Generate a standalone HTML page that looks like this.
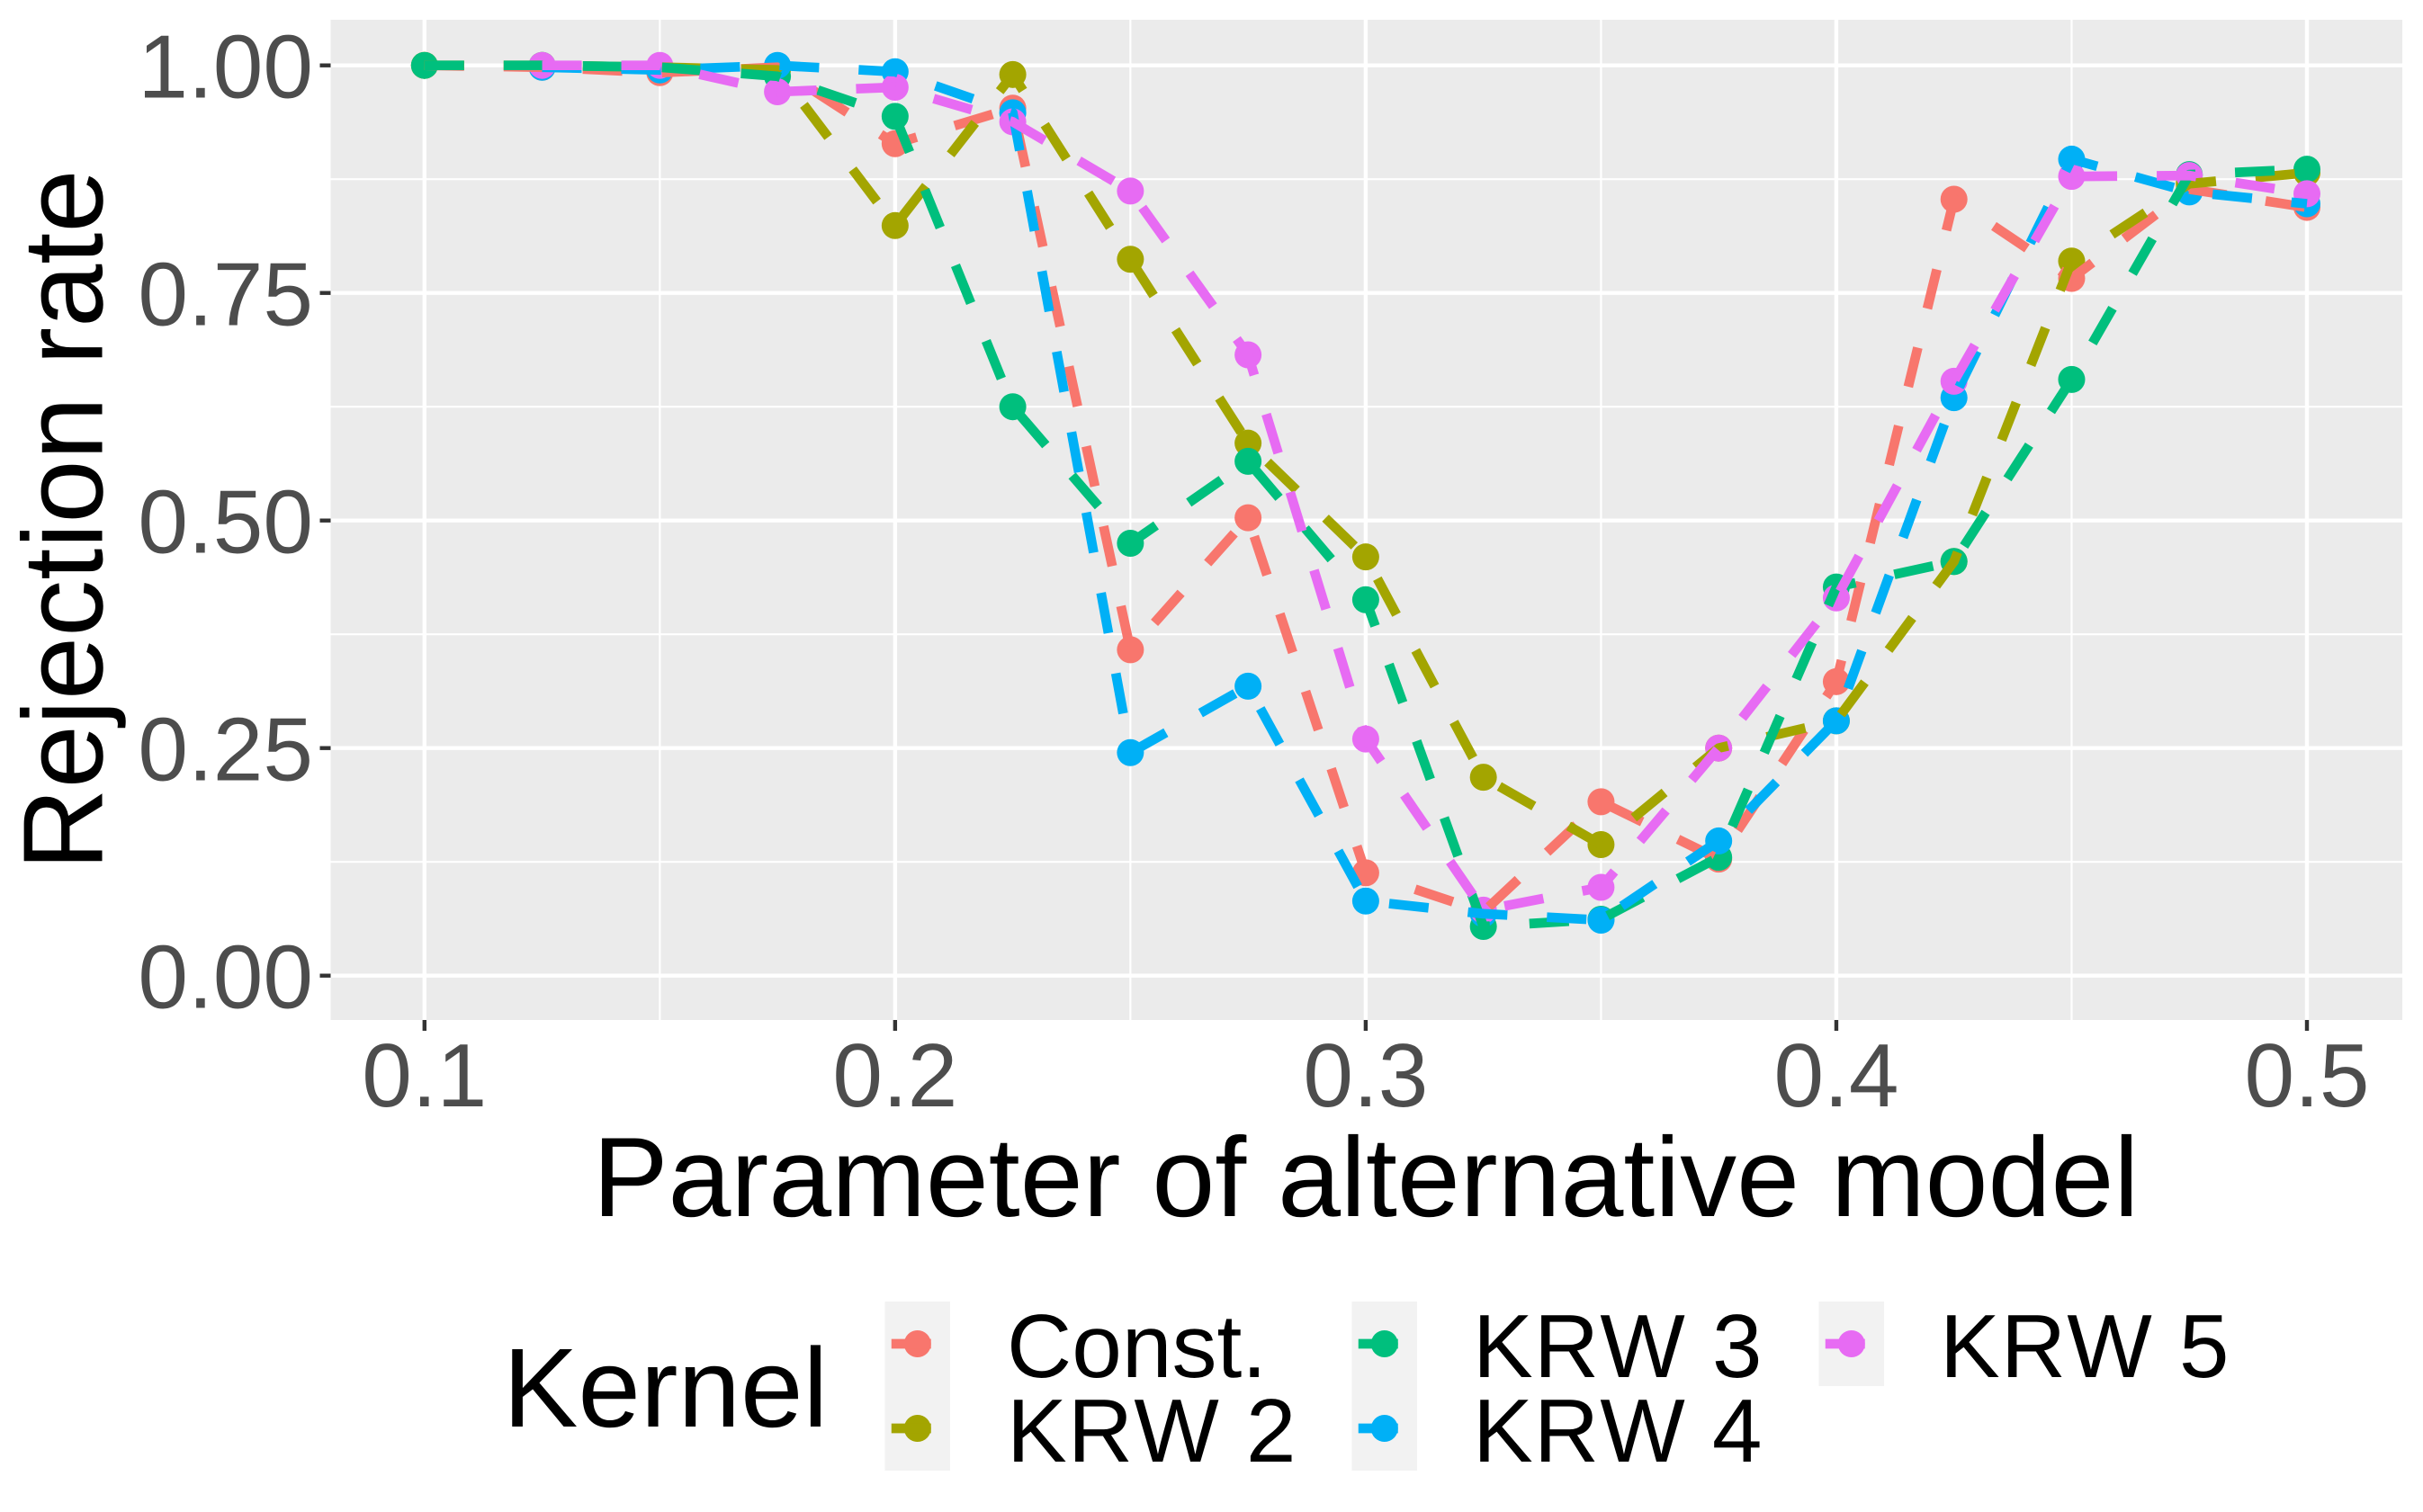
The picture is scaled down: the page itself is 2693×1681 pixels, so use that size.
<!DOCTYPE html>
<html lang="en">
<head>
<meta charset="utf-8">
<title>Rejection rate by parameter of alternative model</title>
<style>
html,body{margin:0;padding:0;background:#fff;}
svg{display:block;}
text{font-family:"Liberation Sans",Arial,sans-serif;font-kerning:none;text-rendering:geometricPrecision;}
</style>
</head>
<body>
<svg id="chart" xmlns="http://www.w3.org/2000/svg" width="2693" height="1681" viewBox="0 0 2693 1681">
  <rect x="0" y="0" width="2693" height="1681" fill="#ffffff"/>
  <rect x="367.5" y="22" width="2302.5" height="1112" fill="#EBEBEB"/>
  <g id="grid"></g>
  <g id="ticks"></g>
  <g id="points"></g>
  <g id="lines"></g>
  <text x="1518" y="1352" text-anchor="middle" font-size="125.7" fill="#000">Parameter of alternative model</text>
  <text transform="translate(113.5,578) rotate(-90)" text-anchor="middle" font-size="126.3" fill="#000">Rejection rate</text>
  <text x="559" y="1586" font-size="125" fill="#000">Kernel</text>
  <g id="legend"></g>
</svg>
<script>
var xValues = [0.1,0.125,0.15,0.175,0.2,0.225,0.25,0.275,0.3,0.325,0.35,0.375,0.4,0.425,0.45,0.475,0.5];
var seriesNames = ["Const.","KRW 2","KRW 3","KRW 4","KRW 5"];
var seriesColors = ["#F8766D","#A3A500","#00BF7D","#00B0F6","#E76BF3"];
var constValues = [1,0.998,0.992,0.998,0.914,0.953,0.358,0.503,0.113,0.07,0.191,0.128,0.323,0.853,0.766,0.864,0.844];
var krw2Values = [1,1,0.998,0.995,0.824,0.99,0.787,0.585,0.46,0.218,0.144,0.25,0.28,0.455,0.785,0.87,0.882];
var krw3Values = [1,1,0.998,0.988,0.944,0.625,0.475,0.565,0.413,0.054,0.062,0.13,0.427,0.455,0.655,0.88,0.886];
var krw4Values = [null,0.998,0.995,1,0.993,0.948,0.245,0.318,0.082,0.068,0.061,0.148,0.28,0.635,0.897,0.861,0.848];
var krw5Values = [null,1,1,0.971,0.976,0.938,0.862,0.682,0.26,0.072,0.097,0.25,0.415,0.653,0.878,0.879,0.859];
var seriesValues = [constValues,krw2Values,krw3Values,krw4Values,krw5Values];
var xTickLabels = ["0.1","0.2","0.3","0.4","0.5"];
var xMinorTicks = [0.15,0.25,0.35,0.45];
var yTickLabels = ["0.00","0.25","0.50","0.75","1.00"];
var yMinorTicks = [0.125,0.375,0.625,0.875];

var NS = "http://www.w3.org/2000/svg";
var panel = {left:367.5,right:2670,top:22,bottom:1134};
var DASH = 44;
var PERIOD = 88;
var STEEP_DOWN = 0.967;
var STEEP_UP = 0.983;
function xScale(v){ return 471.8 + (v - 0.1) * 5230.5; }
function yScale(v){ return 1084.7 - v * 1012; }
function make(tag, attrs, parent){
  var el = document.createElementNS(NS, tag);
  for (var k in attrs) el.setAttribute(k, attrs[k]);
  parent.appendChild(el);
  return el;
}
function fmt(x, y){ return x.toFixed(2) + " " + y.toFixed(2); }
function dashedPath(pts){
  var d = "M" + fmt(pts[0][0], pts[0][1]);
  var pos = 0;
  var on = true;
  for (var i = 1; i < pts.length; i++){
    var x0 = pts[i-1][0], y0 = pts[i-1][1];
    var dx = pts[i][0] - x0, dy = pts[i][1] - y0;
    var f = dy > 0 ? STEEP_DOWN : STEEP_UP;
    var m = Math.sqrt(dx * dx + f * f * dy * dy);
    var u = 0;
    while (u < 1){
      var boundary = on ? DASH : PERIOD;
      var du = (boundary - pos) / m;
      if (u + du >= 1){
        pos += (1 - u) * m;
        u = 1;
        if (on) d += "L" + fmt(pts[i][0], pts[i][1]);
      } else {
        u += du;
        var px = x0 + dx * u, py = y0 + dy * u;
        if (on){
          d += "L" + fmt(px, py);
          on = false;
          pos = DASH;
        } else {
          d += "M" + fmt(px, py);
          on = true;
          pos = 0;
        }
      }
    }
  }
  return d;
}
var grid = document.getElementById("grid");
var ticks = document.getElementById("ticks");
var pointsLayer = document.getElementById("points");
var linesLayer = document.getElementById("lines");
var legend = document.getElementById("legend");

yMinorTicks.forEach(function(v){
  var el = make("line",{x1:panel.left,x2:panel.right,y1:yScale(v),y2:yScale(v),stroke:"#fff","stroke-width":2.2},grid);
  
  
});
xMinorTicks.forEach(function(v){
  var el = make("line",{x1:xScale(v),x2:xScale(v),y1:panel.top,y2:panel.bottom,stroke:"#fff","stroke-width":2.2},grid);
  
  
});
yTickLabels.forEach(function(label){
  var v = parseFloat(label);
  var y = yScale(v);
  var g = make("line",{x1:panel.left,x2:panel.right,y1:y,y2:y,stroke:"#fff","stroke-width":4.4},grid);
  
  
  var t = make("line",{x1:panel.left-12,x2:panel.left,y1:y,y2:y,stroke:"#333","stroke-width":4.4},ticks);
  
  
  var txt = make("text",{x:348,y:y+36,"text-anchor":"end","font-size":100,fill:"#4D4D4D"},ticks);
  
  
  txt.textContent = label;
});
xTickLabels.forEach(function(label){
  var v = parseFloat(label);
  var x = xScale(v);
  var g = make("line",{x1:x,x2:x,y1:panel.top,y2:panel.bottom,stroke:"#fff","stroke-width":4.4},grid);
  
  
  var t = make("line",{x1:x,x2:x,y1:panel.bottom,y2:panel.bottom+12,stroke:"#333","stroke-width":4.4},ticks);
  
  
  var txt = make("text",{x:x,y:1230,"text-anchor":"middle","font-size":100,fill:"#4D4D4D"},ticks);
  
  
  txt.textContent = label;
});

seriesValues.forEach(function(vals, s){
  var pts = [];
  vals.forEach(function(v, i){
    if (v === null) return;
    var cx = xScale(xValues[i]);
    var cy = yScale(v);
    pts.push([cx, cy]);
    var c = make("circle",{cx:cx,cy:cy,r:15,fill:seriesColors[s]},pointsLayer);
    
    
  });
  var line = make("path",{d:dashedPath(pts),fill:"none",stroke:seriesColors[s],"stroke-width":10.7,"stroke-linejoin":"round","stroke-linecap":"butt"},linesLayer);
  
  
});

var keyColumnX = [983.5,1502.5,2021.5];
var labelColumnX = [1119,1637,2156];
var keyRowY = [1447,1541];
var labelRowY = [1531,1625];
seriesNames.forEach(function(name, i){
  var col = Math.floor(i / 2);
  var row = i % 2;
  var kx = keyColumnX[col];
  var ky = keyRowY[row];
  var r = make("rect",{x:kx,y:ky,width:72.5,height:94,fill:"#F2F2F2"},legend);
  
  
  var cx = kx + 36.25;
  var cy = ky + 47;
  var p = make("circle",{cx:cx,cy:cy,r:15,fill:seriesColors[i]},legend);
  
  
  var l = make("line",{x1:kx+7.25,x2:kx+65.25,y1:cy,y2:cy,stroke:seriesColors[i],"stroke-width":10.7,"stroke-dasharray":"44 44"},legend);
  
  
  var t = make("text",{x:labelColumnX[col],y:labelRowY[row],"font-size":100,fill:"#000"},legend);
  
  
  if (i > 0) t.setAttribute('letter-spacing', '1.2');
  t.textContent = name;
});
</script>
</body>
</html>
